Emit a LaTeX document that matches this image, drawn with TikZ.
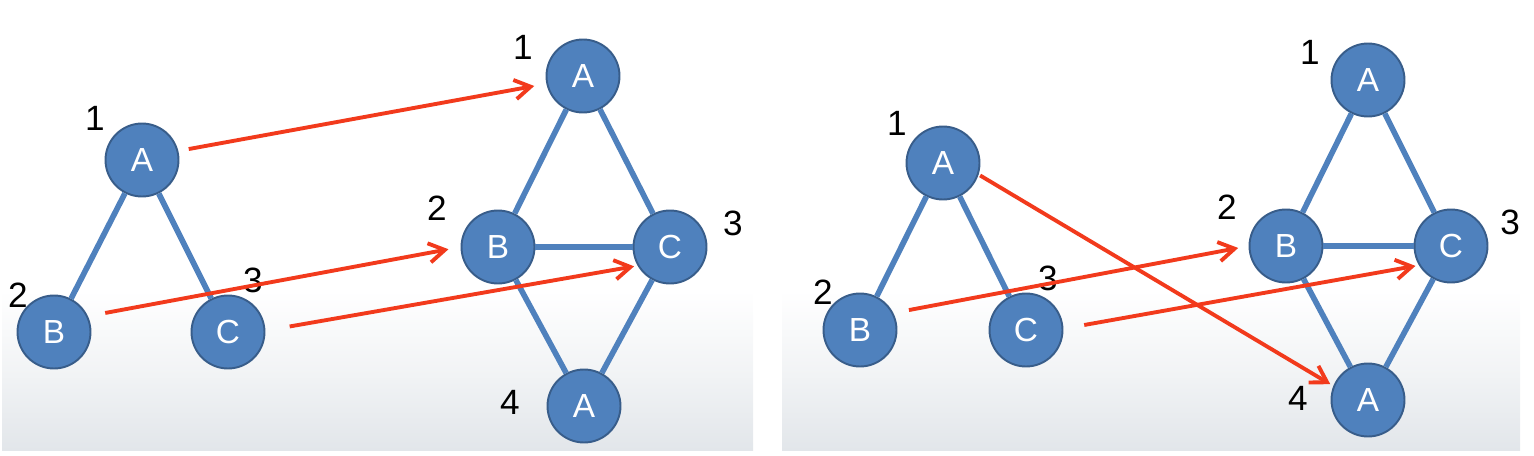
\documentclass[tikz,border=0pt]{standalone}
\usepackage{fontspec}
\setmainfont{Liberation Sans}
\usetikzlibrary{arrows.meta}
\definecolor{nodeblue}{RGB}{79,129,189}
\definecolor{nodeline}{RGB}{56,93,138}
\definecolor{mapred}{RGB}{242,58,28}
\definecolor{floorgray}{RGB}{226,230,234}
\begin{document}
\begin{tikzpicture}[x=0.02cm, y=-0.02cm,
		vertex/.style={circle, fill=nodeblue, draw=nodeline, line width=1.1pt, minimum size=1.46cm, inner sep=0pt, text=white, font=\fontsize{19}{19}\selectfont},
		num/.style={inner sep=0pt, font=\fontsize{20}{20}\selectfont},
		link/.style={nodeblue, line width=3.2pt},
		map/.style={-{Straight Barb[length=9pt, width=11pt]}, mapred, line width=2.2pt}]
	\useasboundingbox (0, 0) rectangle (1534, 456);
	\foreach \x/\w in {2/751, 782/738}
	{
		\fill[white] (\x, 0) rectangle +(\w, 290);
		\shade[top color=white, bottom color=floorgray, middle color=white!55!floorgray] (\x, 290) rectangle +(\w, 160);
	}
	% left panel
	\node[vertex] (lA) at (142, 160) {A};
	\node[vertex] (lB) at (54, 332) {B};
	\node[vertex] (lC) at (228, 332) {C};
	\node[vertex] (lA1) at (583, 76) {A};
	\node[vertex] (lB2) at (498, 247) {B};
	\node[vertex] (lC3) at (670, 247) {C};
	\node[vertex] (lA4) at (584, 406) {A};
	\node[num] (lnA) at (95, 118) {1};
	\node[num] (lnB) at (18, 295) {2};
	\node[num] (lnC) at (253, 280) {3};
	\node[num] (lnA1) at (523, 47) {1};
	\node[num] (lnB2) at (437, 208) {2};
	\node[num] (lnC3) at (733, 223) {3};
	\node[num] (lnA4) at (510, 402) {4};
	% right panel
	\node[vertex] (rA) at (943, 163) {A};
	\node[vertex] (rB) at (860, 330) {B};
	\node[vertex] (rC) at (1026, 330) {C};
	\node[vertex] (rA1) at (1368, 80) {A};
	\node[vertex] (rB2) at (1286, 246) {B};
	\node[vertex] (rC3) at (1451, 246) {C};
	\node[vertex] (rA4) at (1368, 400) {A};
	\node[num] (rnA) at (897, 123) {1};
	\node[num] (rnB) at (823, 292) {2};
	\node[num] (rnC) at (1048, 278) {3};
	\node[num] (rnA1) at (1310, 52) {1};
	\node[num] (rnB2) at (1227, 207) {2};
	\node[num] (rnC3) at (1510, 222) {3};
	\node[num] (rnA4) at (1298, 398) {4};
	\foreach \s/\t in {lA/lB, lA/lC, lA1/lB2, lA1/lC3, lB2/lC3, lB2/lA4, lC3/lA4,
			rA/rB, rA/rC, rA1/rB2, rA1/rC3, rB2/rC3, rB2/rA4, rC3/rA4}
		\draw[link] (\s) -- (\t);
	\draw[map, shorten <=6pt, shorten >=7pt] (lA.14) -- (lA1.192);
	\draw[map, shorten <=10pt, shorten >=7pt] (lB.25) -- (lB2.180);
	\draw[map, shorten <=14pt, shorten >=2pt] (lC.2) -- (lC3.210);
	\draw[map, shorten <=1pt, shorten >=2pt] (rA.-18) -- (rA4.158);
	\draw[map, shorten <=9pt, shorten >=6pt] (rB.27) -- (rB2.180);
	\draw[map, shorten <=12pt, shorten >=2pt] (rC.2) -- (rC3.211);
\end{tikzpicture}
\end{document}
